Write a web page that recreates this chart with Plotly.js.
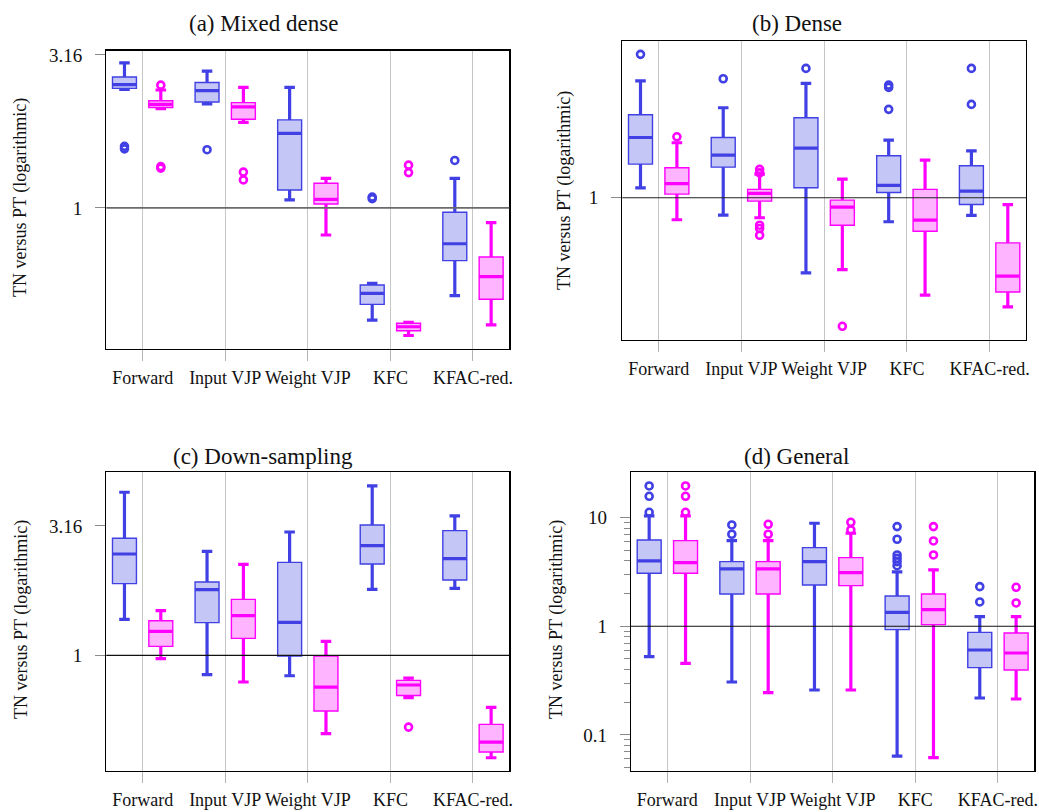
<!DOCTYPE html>
<html>
<head>
<meta charset="utf-8">
<script src="https://cdn.plot.ly/plotly-3.0.1.min.js"></script>
<style>html,body{margin:0;padding:0;background:#fff;}#chart{width:1039px;height:812px;}</style>
</head>
<body>
<div id="chart"></div>
<script>
// ---------------- data ----------------
const categories = ['Forward', 'Input VJP', 'Weight VJP', 'KFC', 'KFAC-red.'];

// (a) Mixed dense
const mixedBlueLower  = [2.44, 2.19, 1.062, 0.430, 0.517];
const mixedBlueQ1     = [2.46, 2.22, 1.145, 0.484, 0.673];
const mixedBlueMedian = [2.53, 2.42, 1.754, 0.526, 0.764];
const mixedBlueQ3     = [2.68, 2.57, 1.94, 0.560, 0.968];
const mixedBlueUpper  = [2.98, 2.80, 2.48, 0.567, 1.25];
const mixedBlueOut    = [[1.59, 1.56], [1.55], [], [1.085, 1.072], [1.43]];
const mixedMagLower   = [2.11, 1.905, 0.816, 0.383, 0.415];
const mixedMagQ1      = [2.13, 1.95, 1.03, 0.397, 0.503];
const mixedMagMedian  = [2.18, 2.14, 1.067, 0.409, 0.596];
const mixedMagQ3      = [2.24, 2.21, 1.204, 0.420, 0.691];
const mixedMagUpper   = [2.43, 2.48, 1.25, 0.423, 0.895];
const mixedMagOut     = [[2.52, 1.365, 1.35], [1.31, 1.235], [], [1.38, 1.305], []];

// (b) Dense
const denseBlueLower  = [1.072, 0.886, 0.592, 0.846, 0.884];
const denseBlueQ1     = [1.265, 1.238, 1.072, 1.038, 0.954];
const denseBlueMedian = [1.523, 1.347, 1.414, 1.09, 1.048];
const denseBlueQ3     = [1.785, 1.523, 1.748, 1.341, 1.25];
const denseBlueUpper  = [2.26, 1.874, 2.221, 1.495, 1.388];
const denseBlueOut    = [[2.72], [2.294], [2.466], [2.195, 2.16, 1.853], [2.466, 1.918]];
const denseMagLower   = [0.858, 0.870, 0.606, 0.507, 0.467];
const denseMagQ1      = [1.026, 0.977, 0.826, 0.792, 0.518];
const denseMagMedian  = [1.103, 1.031, 0.937, 0.856, 0.579];
const denseMagQ3      = [1.233, 1.06, 0.984, 1.06, 0.730];
const denseMagUpper   = [1.468, 1.18, 1.139, 1.30, 0.954];
const denseMagOut     = [[1.53], [1.219, 1.19, 0.826, 0.807, 0.770], [0.408], [], []];

// (c) Down-sampling
const downBlueLower   = [1.378, 0.842, 0.834, 1.80, 1.816];
const downBlueQ1      = [1.893, 1.338, 0.994, 2.255, 1.956];
const downBlueMedian  = [2.465, 1.794, 1.341, 2.655, 2.364];
const downBlueQ3      = [2.834, 1.921, 2.288, 3.19, 3.034];
const downBlueUpper   = [4.27, 2.523, 2.998, 4.515, 3.458];
const downBlueOut     = [[], [], [], [], []];
const downMagLower    = [0.971, 0.789, 0.498, 0.686, 0.402];
const downMagQ1       = [1.083, 1.163, 0.609, 0.700, 0.423];
const downMagMedian   = [1.238, 1.423, 0.754, 0.768, 0.462];
const downMagQ3       = [1.361, 1.646, 0.994, 0.800, 0.541];
const downMagUpper    = [1.488, 2.248, 1.133, 0.817, 0.629];
const downMagOut      = [[], [], [], [0.528], []];

// (d) General
const genBlueLower    = [0.525, 0.307, 0.259, 0.0638, 0.2185];
const genBlueQ1       = [3.08, 1.987, 2.404, 0.932, 0.416];
const genBlueMedian   = [4.0, 3.376, 3.945, 1.346, 0.605];
const genBlueQ3       = [6.25, 3.945, 5.31, 1.904, 0.88];
const genBlueUpper    = [10.4, 6.16, 8.9, 3.17, 1.228];
const genBlueOut      = [[19.65, 15.78, 11.24], [8.59, 7.05], [], [8.29, 6.34, 4.545, 4.23, 3.945, 3.62], [2.32, 1.676]];
const genMagLower     = [0.456, 0.2446, 0.259, 0.0616, 0.214];
const genMagQ1        = [3.08, 1.987, 2.37, 1.036, 0.396];
const genMagMedian    = [3.86, 3.376, 3.124, 1.424, 0.568];
const genMagQ3        = [6.16, 3.945, 4.295, 1.987, 0.868];
const genMagUpper     = [10.4, 6.16, 7.2, 3.305, 1.228];
const genMagOut       = [[19.65, 15.78, 11.24], [8.71, 7.05], [9.09, 7.73], [8.29, 6.115, 4.545], [2.289, 1.641]];

const panelTitles = ['(a) Mixed dense', '(b) Dense', '(c) Down-sampling', '(d) General'];
const yAxisTitle = 'TN versus PT (logarithmic)';

// ---------------- style ----------------
const FONT = 'Liberation Serif, Times New Roman, serif';
const BLUE = 'rgb(64,64,228)', BLUE_FILL = 'rgb(196,198,246)';
const MAG = 'rgb(255,0,255)', MAG_FILL = 'rgb(255,180,255)';
const OFFSET = 0.22, BOXW = 0.29, CAP = 0.44;
const W = 1039, H = 812;

const panels = [
  {xa: 'x',  ya: 'y',  dom: [106.3, 509.3, 50.7, 349],  yr: [-0.461, 0.514], title: [263, 23],  ylab: [21, 198],
   blue: [mixedBlueLower, mixedBlueQ1, mixedBlueMedian, mixedBlueQ3, mixedBlueUpper, mixedBlueOut],
   mag: [mixedMagLower, mixedMagQ1, mixedMagMedian, mixedMagQ3, mixedMagUpper, mixedMagOut],
   ticks: [[1, Math.sqrt(10)], ['1', '3.16']], oneLine: ['#6a6a6a', 1.8]},
  {xa: 'x2', ya: 'y2', dom: [622.3, 1026, 41, 339.7],  yr: [-0.430, 0.475], title: [796.5, 23], ylab: [564, 191],
   blue: [denseBlueLower, denseBlueQ1, denseBlueMedian, denseBlueQ3, denseBlueUpper, denseBlueOut],
   mag: [denseMagLower, denseMagQ1, denseMagMedian, denseMagQ3, denseMagUpper, denseMagOut],
   ticks: [[1], ['1']], oneLine: ['#222', 1.1]},
  {xa: 'x3', ya: 'y3', dom: [106.3, 509.3, 472.3, 771], yr: [-0.447, 0.7075], title: [262.5, 456], ylab: [21, 620],
   blue: [downBlueLower, downBlueQ1, downBlueMedian, downBlueQ3, downBlueUpper, downBlueOut],
   mag: [downMagLower, downMagQ1, downMagMedian, downMagQ3, downMagUpper, downMagOut],
   ticks: [[1, Math.sqrt(10)], ['1', '3.16']], oneLine: ['#111', 1.1]},
  {xa: 'x4', ya: 'y4', dom: [631, 1034.3, 472.3, 771],  yr: [-1.333, 1.419], title: [796, 456], ylab: [556, 620],
   blue: [genBlueLower, genBlueQ1, genBlueMedian, genBlueQ3, genBlueUpper, genBlueOut],
   mag: [genMagLower, genMagQ1, genMagMedian, genMagQ3, genMagUpper, genMagOut],
   ticks: [[0.1, 1, 10], ['0.1', '1', '10']], oneLine: ['#111', 1.1], minor: true}
];

const traces = [];
function addSeries(p, s, offset, color, fill) {
  const [lower, q1, median, q3, upper, outs] = s;
  const x = categories.map((_, i) => i + 1 + offset);
  const common = {type: 'box', orientation: 'v', x: x, width: BOXW, xaxis: p.xa, yaxis: p.ya,
                  hoverinfo: 'skip', showlegend: false, boxpoints: false};
  // whiskers (thick)
  traces.push(Object.assign({}, common, {q1: median, median: median, q3: median,
    lowerfence: lower, upperfence: upper, whiskerwidth: CAP,
    line: {color: color, width: 3.2}, fillcolor: 'rgba(0,0,0,0)'}));
  // box (thin outline, filled)
  traces.push(Object.assign({}, common, {q1: q1, median: median, q3: q3,
    lowerfence: q1, upperfence: q3, whiskerwidth: 0,
    line: {color: color, width: 1.4}, fillcolor: fill}));
  // median (thick)
  traces.push(Object.assign({}, common, {q1: median, median: median, q3: median,
    lowerfence: median, upperfence: median, whiskerwidth: 0,
    line: {color: color, width: 3.2}, fillcolor: 'rgba(0,0,0,0)'}));
  // outliers
  const ox = [], oy = [];
  outs.forEach((vals, i) => vals.forEach(v => { ox.push(i + 1 + offset); oy.push(v); }));
  traces.push({type: 'scatter', mode: 'markers', x: ox, y: oy, xaxis: p.xa, yaxis: p.ya,
    hoverinfo: 'skip', showlegend: false, cliponaxis: false,
    marker: {symbol: 'circle-open', size: 7, color: color, line: {color: color, width: 2.6}}});
}

const layout = {
  width: W, height: H, margin: {l: 0, r: 0, t: 0, b: 0, autoexpand: false},
  paper_bgcolor: '#fff', plot_bgcolor: '#fff', showlegend: false, boxmode: 'overlay',
  font: {family: FONT, color: '#111'},
  annotations: [], shapes: []
};

const minorVals = [0.05, 0.06, 0.07, 0.08, 0.09, 0.2, 0.3, 0.4, 0.5, 0.6, 0.7, 0.8, 0.9,
                   2, 3, 4, 5, 6, 7, 8, 9];

panels.forEach((p, k) => {
  addSeries(p, p.blue, -OFFSET, BLUE, BLUE_FILL);
  addSeries(p, p.mag, OFFSET, MAG, MAG_FILL);
  const n = k === 0 ? '' : String(k + 1);
  const [x0, x1, y0, y1] = p.dom;
  layout['xaxis' + n] = {
    domain: [x0 / W, x1 / W], anchor: p.ya, range: [0.56, categories.length + 0.44],
    tickmode: 'array', tickvals: categories.map((_, i) => i + 1), ticktext: categories,
    showgrid: true, gridcolor: '#c6c6c6', gridwidth: 1, zeroline: false,
    ticks: 'outside', ticklen: 11, tickwidth: 1, tickcolor: '#b4b4b4',
    ticklabelstandoff: 1,
    showline: true, linecolor: '#000', linewidth: 1.3, mirror: true,
    tickfont: {family: FONT, size: 18, color: '#111'}, fixedrange: true
  };
  const ya = {
    domain: [1 - y1 / H, 1 - y0 / H], anchor: p.xa, type: 'log', range: p.yr,
    tickmode: 'array', tickvals: p.ticks[0], ticktext: p.ticks[1],
    showgrid: false, zeroline: false,
    ticks: 'outside', ticklen: 10, tickwidth: 1, tickcolor: '#8a8a8a',
    ticklabelstandoff: 9,
    showline: true, linecolor: '#000', linewidth: 1.3, mirror: true,
    tickfont: {family: FONT, size: 19, color: '#111'}, fixedrange: true
  };
  if (p.minor) {
    ya.minor = {tickmode: 'array', tickvals: minorVals, ticks: 'outside', ticklen: 6,
                tickwidth: 1, tickcolor: '#8a8a8a', showgrid: false};
  }
  layout['yaxis' + n] = ya;
  layout.shapes.push({type: 'line', xref: p.xa + ' domain', x0: 0, x1: 1, yref: p.ya, y0: 1, y1: 1,
                      line: {color: p.oneLine[0], width: p.oneLine[1]}, layer: 'above'});
  layout.annotations.push({text: panelTitles[k], xref: 'paper', yref: 'paper',
    x: p.title[0] / W, y: 1 - p.title[1] / H, xanchor: 'center', yanchor: 'middle',
    showarrow: false, font: {family: FONT, size: 23, color: '#111'}});
  layout.annotations.push({text: yAxisTitle, xref: 'paper', yref: 'paper', textangle: -90,
    x: p.ylab[0] / W, y: 1 - p.ylab[1] / H, xanchor: 'center', yanchor: 'middle',
    showarrow: false, font: {family: FONT, size: 18, color: '#111'}});
});

Plotly.newPlot('chart', traces, layout, {staticPlot: true, displayModeBar: false});
</script>
</body>
</html>
